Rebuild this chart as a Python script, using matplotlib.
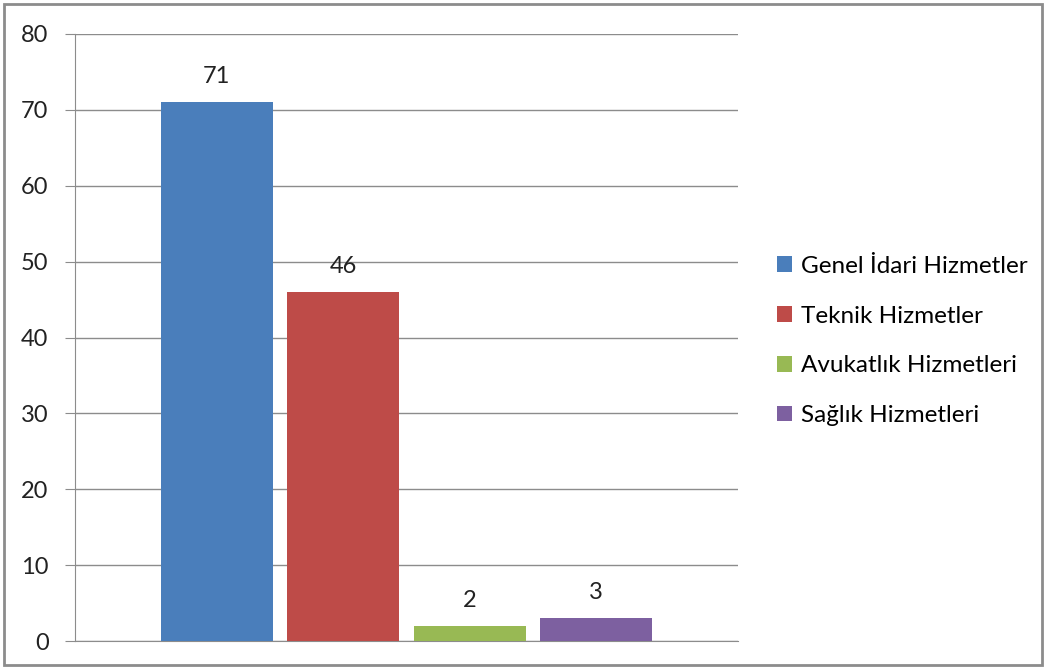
import matplotlib
matplotlib.use("Agg")
import matplotlib.pyplot as plt
from matplotlib.patches import Rectangle, Patch

plt.rcParams['font.family'] = ['Lato', 'DejaVu Sans']

categories = ["Genel İdari Hizmetler", "Teknik Hizmetler", "Avukatlık Hizmetleri", "Sağlık Hizmetleri"]
values = [71, 46, 2, 3]
colors = ["#4a7ebb", "#be4b48", "#98b954", "#7d60a0"]
yticks = [0, 10, 20, 30, 40, 50, 60, 70, 80]

FS = 17

fig = plt.figure(figsize=(10.46, 6.69), dpi=100)
ax = fig.add_axes([75/1046, 1-641/669, (738-75)/1046, (641-34)/669])

x = list(range(len(values)))
ax.bar(x, values, width=0.885, color=colors, zorder=3)
for xi, v in zip(x, values):
    ax.annotate(str(v), (xi, v), xytext=(0, 11), textcoords='offset points',
                ha='center', va='bottom', fontsize=FS, color='#222222')

ax.set_xlim(-1.122, 3 + 1.122)
ax.set_ylim(0, 80)
ax.set_yticks(yticks)
ax.set_yticklabels([str(t) for t in yticks], fontsize=FS, color='#222222')
ax.set_xticks([])
ax.grid(axis='y', color='#8c8c8c', linewidth=1, zorder=0)
ax.tick_params(axis='y', length=7, color='#8c8c8c', pad=12)
for s in ['top', 'right']:
    ax.spines[s].set_visible(False)
ax.spines['left'].set_color('#8c8c8c')
ax.spines['bottom'].set_color('#8c8c8c')

handles = [Patch(facecolor=c, edgecolor='none') for c in colors]
fig.legend(handles, categories, loc='upper left', bbox_to_anchor=(777/1046, 1-256/669),
           frameon=False, fontsize=17.5, handlelength=0.63, handleheight=0.63,
           handletextpad=0.35, labelspacing=1.18, borderaxespad=0, borderpad=0)

fig.patches.append(Rectangle((4/1046, 4/669), 1038/1046, 661/669, transform=fig.transFigure,
                             fill=False, edgecolor='#8c8c8c', linewidth=2))

fig.savefig("out.png", dpi=100)
